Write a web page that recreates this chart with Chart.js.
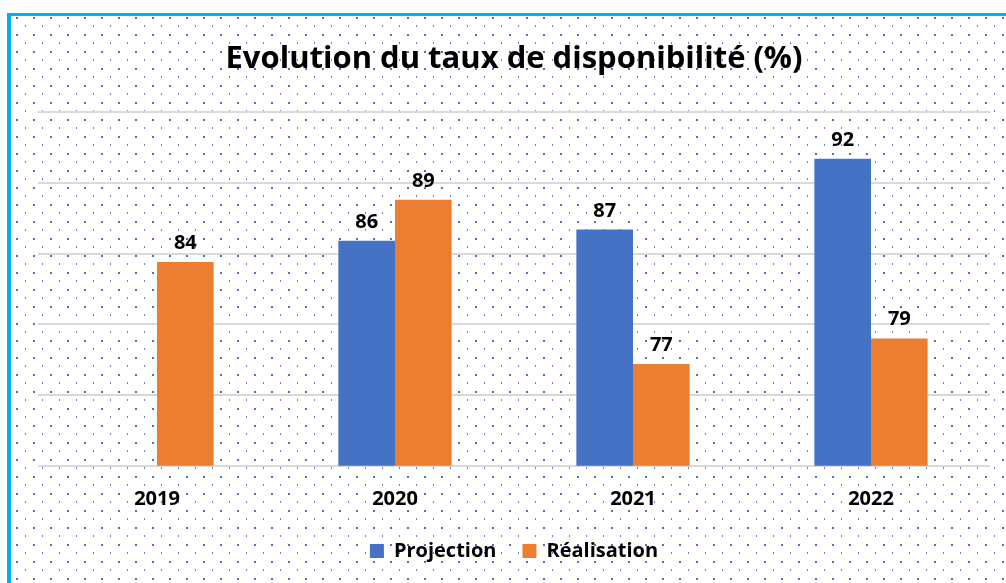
<!DOCTYPE html>
<html><head><meta charset="utf-8">
<script src="https://cdn.jsdelivr.net/npm/chart.js@4.4.1/dist/chart.umd.min.js"></script>
<style>html,body{margin:0;padding:0;background:#fff;overflow:hidden}canvas{display:block}</style>
</head><body>
<canvas id="c" width="1006" height="583"></canvas>
<script>
const categories = ['2019', '2020', '2021', '2022'];
const projection = [null, 85.9, 86.7, 91.7];
const realisation = [84.4, 88.8, 77.2, 79.0];
const yTicks = [70, 75, 80, 85, 90, 95];
const seriesNames = ['Projection', 'Réalisation'];
const titleText = 'Evolution du taux de disponibilité (%)';

const FONT = 'Open Sans';

const backgroundPlugin = {
  id: 'bg',
  beforeDraw(chart) {
    const ctx = chart.ctx, w = chart.width, h = chart.height;
    ctx.save();
    ctx.fillStyle = '#ffffff';
    ctx.fillRect(0, 0, w, h);
    ctx.fillStyle = '#4472C4';
    for (let y = 17.7; y < h; y += 17) {
      for (let x = 16.7; x < w; x += 17) {
        ctx.fillRect(Math.round(x - 1), Math.round(y - 1), 2, 2);
      }
    }
    ctx.fillStyle = '#5b86d0';
    for (let y = 26.2; y < h; y += 17) {
      for (let x = 25.2; x < w; x += 17) {
        ctx.fillRect(Math.round(x - 0.5), Math.round(y - 1), 1, 2);
      }
    }
    ctx.fillStyle = '#00B0F0';
    ctx.fillRect(7, 13, w - 7, 3);
    ctx.fillRect(7, 13, 4, h - 13);
    ctx.restore();
  }
};

const labelsPlugin = {
  id: 'valueLabels',
  afterDatasetsDraw(chart) {
    const ctx = chart.ctx;
    ctx.save();
    ctx.font = 'bold 20px "' + FONT + '"';
    ctx.fillStyle = '#000';
    ctx.textAlign = 'center';
    ctx.textBaseline = 'alphabetic';
    chart.data.datasets.forEach((ds, i) => {
      const meta = chart.getDatasetMeta(i);
      meta.data.forEach((el, j) => {
        const v = ds.data[j];
        if (v === null || v === undefined) return;
        ctx.fillText(String(Math.round(v)), el.x, el.y - 13);
      });
    });
    ctx.restore();
  }
};

function draw() {
  new Chart(document.getElementById('c'), {
    type: 'bar',
    data: {
      labels: categories,
      datasets: [
        { label: seriesNames[0], data: projection, backgroundColor: '#4472C4', borderWidth: 0 },
        { label: seriesNames[1], data: realisation, backgroundColor: '#ED7D31', borderWidth: 0 }
      ]
    },
    options: {
      responsive: false,
      devicePixelRatio: 1,
      animation: false,
      categoryPercentage: 0.476,
      barPercentage: 1,
      layout: { padding: { left: 38, right: 16, top: 0, bottom: 12 } },
      plugins: {
        title: {
          display: true,
          text: titleText,
          color: '#000',
          font: { family: FONT, size: 31, weight: 'bold' },
          padding: { top: 41, bottom: 34 }
        },
        legend: {
          position: 'bottom',
          labels: {
            color: '#000',
            font: { family: FONT, size: 20, weight: 'bold' },
            boxWidth: 14,
            boxHeight: 14,
            padding: 26
          }
        },
        tooltip: { enabled: false }
      },
      scales: {
        x: {
          grid: { display: false, drawTicks: false },
          border: { display: false },
          ticks: { color: '#000', font: { family: FONT, size: 20, weight: 'bold' }, padding: 22 },
          afterFit(scale) { scale.height = 49.3; }
        },
        y: {
          min: yTicks[0],
          max: yTicks[yTicks.length - 1],
          afterBuildTicks(axis) { axis.ticks = yTicks.map(v => ({ value: v })); },
          ticks: { display: false },
          grid: { color: '#D9D9D9', lineWidth: 2, drawTicks: false },
          border: { display: false }
        }
      }
    },
    plugins: [backgroundPlugin, labelsPlugin]
  });
}
Promise.all([
  document.fonts.load('bold 20px "' + FONT + '"'),
  document.fonts.load('bold 31px "' + FONT + '"')
]).then(draw, draw);
</script>
</body></html>
